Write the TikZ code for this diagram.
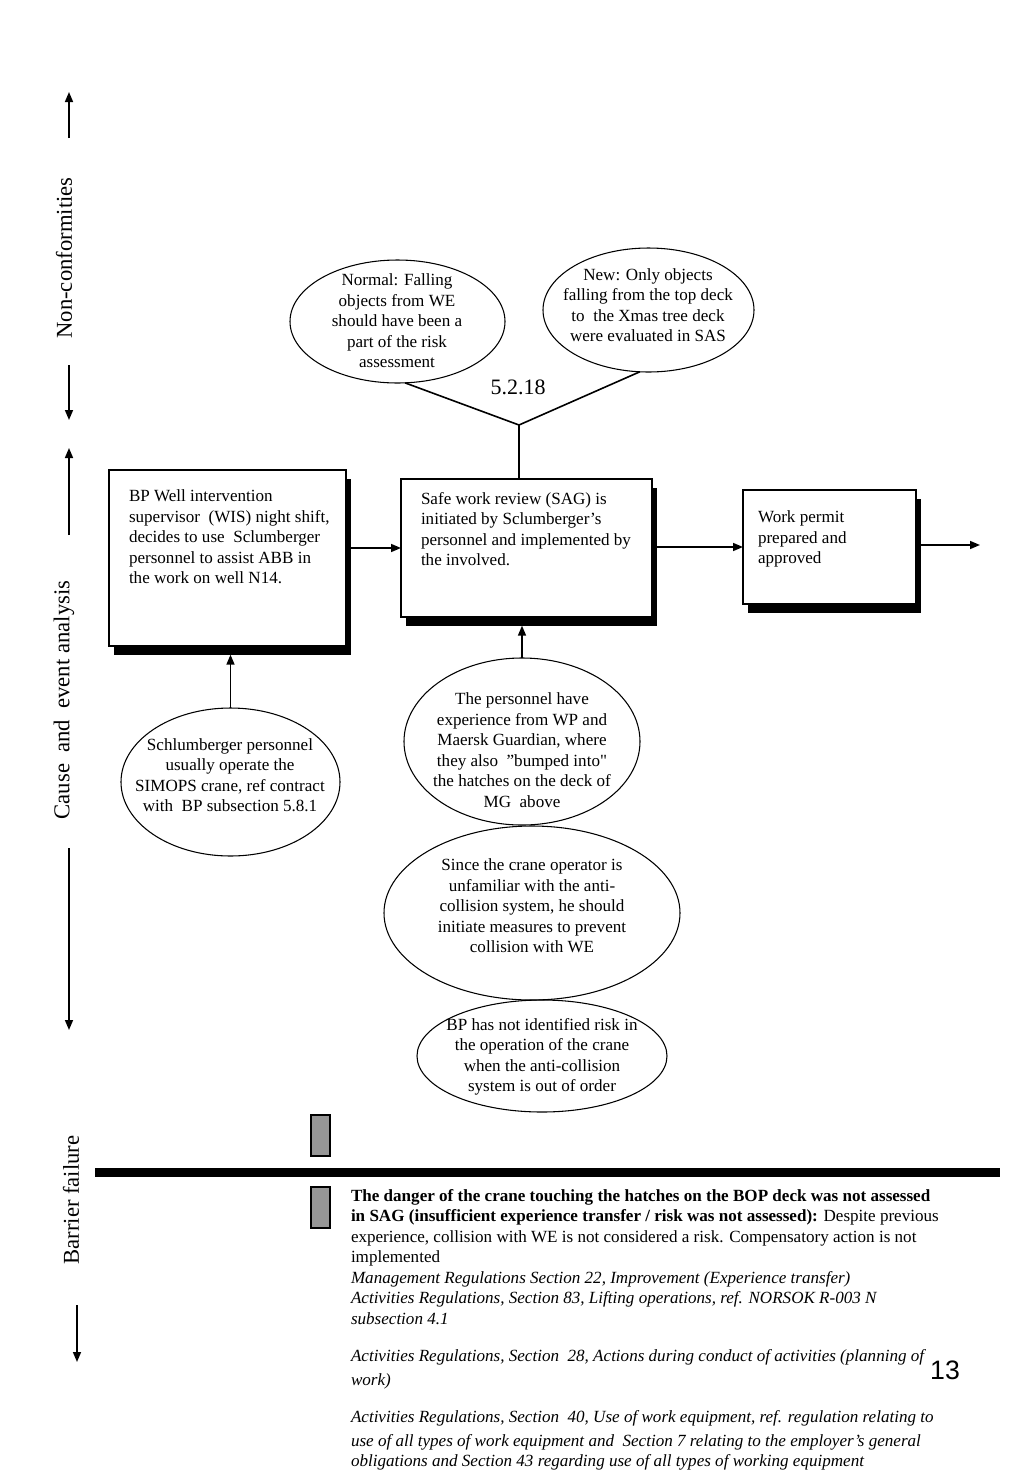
\documentclass[tikz,border=0pt]{standalone}
\usepackage{fontspec}
\setmainfont{Liberation Serif}
\newfontfamily\sansf{Liberation Sans}
\usetikzlibrary{arrows.meta,shapes.geometric,shadows,calc}
\definecolor{barg}{RGB}{150,150,150}
\begin{document}
\begin{tikzpicture}[x=0.75pt,y=-0.75pt,
 every node/.style={inner sep=0pt,outer sep=0pt},
 ln/.style={line width=1.2pt},
 arr/.style={line width=1.2pt,-{Triangle[length=7.5pt,width=6pt]}},
 boxst/.style={draw,line width=0.8pt,fill=white,general shadow={fill=black,shadow xshift=4pt,shadow yshift=-6.5pt},anchor=north west},
 body/.style={font=\fontsize{12.8}{15.4}\selectfont},
 btext/.style={body,align=left,anchor=north west},
 etext/.style={body,align=center},
 ell/.style={ellipse,draw,line width=0.8pt,inner sep=0pt},
 side/.style={font=\fontsize{17}{20}\selectfont,rotate=90},
 gbox/.style={draw,line width=0.8pt,fill=barg,minimum width=14.25pt,minimum height=30.75pt,anchor=north west}]
\useasboundingbox (0,0) rectangle (1024,1479);

% side labels
\coordinate (n1a) at (69,138); \coordinate (n1b) at (69,92);
\coordinate (n2a) at (69,365); \coordinate (n2b) at (69,420);
\node[side] (nc) at (64,258) {Non-conformities};
\draw[arr] (n1a) -- (n1b);
\draw[arr] (n2a) -- (n2b);
\coordinate (c1a) at (69,535); \coordinate (c1b) at (69,448);
\coordinate (c2a) at (69,848); \coordinate (c2b) at (69,1030);
\node[side] (ce) at (64,700) {Cause\ \ and\ \ event analysis};
\draw[arr] (c1a) -- (c1b);
\draw[arr] (c2a) -- (c2b);
\coordinate (b1a) at (77,1305); \coordinate (b1b) at (77,1362);
\node[side] (bf) at (71,1200) {Barrier failure};
\draw[arr] (b1a) -- (b1b);

% boxes
\node[boxst,minimum width=177.75pt,minimum height=132pt] (A) at (109,470) {};
\node[btext] (At) at (129,490) {BP Well intervention\\supervisor\ \ (WIS) night shift,\\decides to use\ \ Sclumberger\\personnel to assist ABB in\\the work on well N14.};
\node[boxst,minimum width=188.25pt,minimum height=103.5pt] (B) at (401,479) {};
\node[btext] (Bt) at (421,492) {Safe work review (SAG) is\\initiated by Sclumberger's\\personnel and implemented by\\the involved.};
\node[boxst,minimum width=129.75pt,minimum height=85.5pt] (C) at (743,490) {};
\node[btext] (Ct) at (758,511) {Work permit\\prepared and\\approved};

% ellipses
\node[ell,minimum width=161.25pt,minimum height=92.25pt] (E1) at (397.5,321.5) {};
\node[etext] (E1t) at (397,321) {Normal: Falling\\objects from WE\\should have been a\\part of the risk\\assessment};
\node[ell,minimum width=158.25pt,minimum height=93pt] (E2) at (648.5,310) {};
\node[etext] (E2t) at (648,305) {New: Only objects\\falling from the top deck\\to\ \ the Xmas tree deck\\were evaluated in SAS};
\node[font=\fontsize{16.5}{19}\selectfont] (num) at (518,387) {5.2.18};
\node[ell,minimum width=164.25pt,minimum height=111pt] (E3) at (230.5,782) {};
\node[etext] (E3t) at (230,775) {Schlumberger personnel\\usually operate the\\SIMOPS crane, ref contract\\with\ \ BP subsection 5.8.1};
\node[ell,minimum width=177pt,minimum height=125.25pt] (E4) at (522,741.5) {};
\node[etext] (E4t) at (522,750) {The personnel have\\experience from WP and\\Maersk Guardian, where\\they also\ \ ''bumped into\textquotedbl\\the hatches on the deck of\\MG\ \ above};
\node[ell,minimum width=222pt,minimum height=130.5pt] (E5) at (532,913) {};
\node[etext] (E5t) at (532,906) {Since the crane operator is\\unfamiliar with the anti-\\collision system, he should\\initiate measures to prevent\\collision with WE};
\node[ell,minimum width=187.5pt,minimum height=84pt] (E6) at (542,1056) {};
\node[etext] (E6t) at (542,1057) {BP has not identified risk in\\the operation of the crane\\when the anti-collision\\system is out of order};

% connectors
\coordinate (J) at (519,425);
\draw[ln] (B.north -| J) -- (J);
\draw[ln] (J) -- (E1.-83);
\draw[ln] (J) -- (E2.-98);
\draw[arr] ([xshift=4pt]A.east |- B.west) -- (B.west);
\draw[arr] ([xshift=4pt]B.east |- C.west) -- (C.west);
\coordinate (out) at (980,545);
\draw[arr] ([xshift=4pt]C.east |- out) -- (out);
\draw[arr] (E3.north) -- ([yshift=-6.5pt]E3.north |- A.south);
\draw[arr] (E4.north) -- ([yshift=-6.5pt]E4.north |- B.south);

% barrier
\node[gbox] (G1) at (311,1115) {};
\fill (95,1168) rectangle (1000,1177);
\node[gbox] (G2) at (311,1187) {};
\node[btext] (T) at (351,1189) {\textbf{The danger of the crane touching the hatches on the BOP deck was not assessed}\\
\textbf{in SAG (insufficient experience transfer / risk was not assessed):} Despite previous\\
experience, collision with WE is not considered a risk. Compensatory action is not\\
implemented\\
\textit{Management Regulations Section 22, Improvement (Experience transfer)}\\
\textit{Activities Regulations, Section 83, Lifting operations, ref. NORSOK R-003 N}\\
\textit{subsection 4.1}\\[12.6pt]
\textit{Activities Regulations, Section\ \ 28, Actions during conduct of activities (planning of}\\[2.6pt]
\textit{work)}\\[12pt]
\textit{Activities Regulations, Section\ \ 40, Use of work equipment, ref. regulation relating to}\\[2.6pt]
\textit{use of all types of work equipment and\ \ Section 7 relating to the employer's general}\\
\textit{obligations and Section 43 regarding use of all types of working equipment}};
\node[font=\sansf\fontsize{20}{24}\selectfont] (pg) at (945,1370) {13};
\end{tikzpicture}
\end{document}
